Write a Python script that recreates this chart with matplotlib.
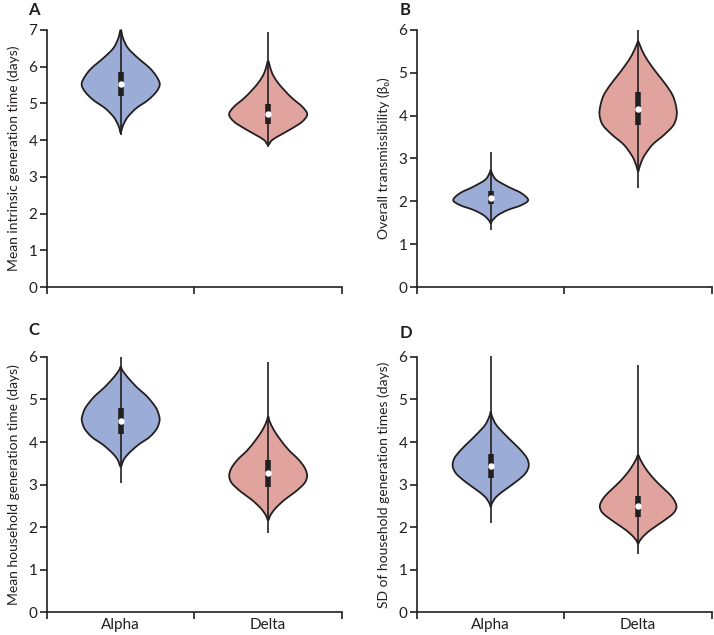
import numpy as np
import matplotlib
matplotlib.use('Agg')
import matplotlib.pyplot as plt
from matplotlib.path import Path
from matplotlib.patches import PathPatch

plt.rcParams['font.family'] = ['Lato', 'DejaVu Sans']

categories = ['Alpha', 'Delta']
panel_letters = ['A', 'B', 'C', 'D']
ylabels = ['Mean intrinsic generation time (days)',
           'Overall transmissibility (β₀)',
           'Mean household generation time (days)',
           'SD of household generation times (days)']
ymaxs = [7, 6, 6, 6]

# Violin outlines: y levels and half-widths (x units)
A_alpha_y = [7.00, 6.77, 6.50, 6.23, 5.96, 5.73, 5.52, 5.32, 5.09, 4.87, 4.64, 4.46, 4.32, 4.19]
A_alpha_w = [0.0, 0.016, 0.05, 0.118, 0.197, 0.243, 0.265, 0.243, 0.186, 0.107, 0.05, 0.023, 0.009, 0.0]
A_delta_y = [6.16, 6.05, 5.82, 5.59, 5.37, 5.14, 4.91, 4.70, 4.50, 4.32, 4.14, 4.00, 3.87]
A_delta_w = [0.0, 0.009, 0.027, 0.061, 0.107, 0.163, 0.231, 0.265, 0.231, 0.163, 0.084, 0.027, 0.0]

B_alpha_y = [2.73, 2.65, 2.50, 2.34, 2.19, 2.03, 1.91, 1.80, 1.68, 1.56, 1.49]
B_alpha_w = [0.0, 0.009, 0.038, 0.118, 0.208, 0.254, 0.208, 0.118, 0.05, 0.013, 0.0]
B_delta_y = [5.73, 5.65, 5.42, 5.18, 4.95, 4.72, 4.48, 4.25, 4.02, 3.78, 3.55, 3.32, 3.08, 2.93, 2.77, 2.69]
B_delta_w = [0.0, 0.011, 0.041, 0.086, 0.136, 0.188, 0.233, 0.255, 0.262, 0.24, 0.176, 0.097, 0.045, 0.023, 0.007, 0.0]

C_alpha_y = [5.77, 5.69, 5.54, 5.30, 5.07, 4.83, 4.68, 4.52, 4.32, 4.12, 3.93, 3.73, 3.58, 3.42]
C_alpha_w = [0.0, 0.011, 0.043, 0.106, 0.179, 0.235, 0.255, 0.264, 0.246, 0.197, 0.118, 0.054, 0.02, 0.0]
C_delta_y = [4.60, 4.48, 4.28, 4.05, 3.81, 3.58, 3.38, 3.20, 3.03, 2.83, 2.64, 2.44, 2.28, 2.16]
C_delta_w = [0.0, 0.011, 0.039, 0.084, 0.14, 0.208, 0.25, 0.264, 0.246, 0.185, 0.111, 0.05, 0.016, 0.0]

D_alpha_y = [4.71, 4.60, 4.40, 4.20, 4.01, 3.81, 3.62, 3.44, 3.26, 3.07, 2.87, 2.71, 2.56, 2.48]
D_alpha_w = [0.0, 0.009, 0.038, 0.09, 0.145, 0.203, 0.246, 0.258, 0.235, 0.174, 0.095, 0.038, 0.009, 0.0]
D_delta_y = [3.69, 3.58, 3.38, 3.18, 2.99, 2.79, 2.64, 2.48, 2.32, 2.12, 1.93, 1.77, 1.65, 1.60]
D_delta_w = [0.0, 0.016, 0.05, 0.095, 0.147, 0.208, 0.243, 0.26, 0.238, 0.163, 0.084, 0.032, 0.007, 0.0]

# Summary stats: whisker low, box low, median, box high, whisker high
A_alpha_stats = [4.13, 5.21, 5.53, 5.86, 7.00]
A_delta_stats = [3.82, 4.44, 4.71, 4.98, 6.94]
B_alpha_stats = [1.33, 1.93, 2.08, 2.24, 3.14]
B_delta_stats = [2.30, 3.78, 4.15, 4.54, 6.00]
C_alpha_stats = [3.03, 4.19, 4.49, 4.81, 6.00]
C_delta_stats = [1.87, 2.95, 3.26, 3.58, 5.89]
D_alpha_stats = [2.09, 3.15, 3.43, 3.72, 6.02]
D_delta_stats = [1.36, 2.24, 2.49, 2.74, 5.80]

panels = [
    [(A_alpha_y, A_alpha_w, A_alpha_stats), (A_delta_y, A_delta_w, A_delta_stats)],
    [(B_alpha_y, B_alpha_w, B_alpha_stats), (B_delta_y, B_delta_w, B_delta_stats)],
    [(C_alpha_y, C_alpha_w, C_alpha_stats), (C_delta_y, C_delta_w, C_delta_stats)],
    [(D_alpha_y, D_alpha_w, D_alpha_stats), (D_delta_y, D_delta_w, D_delta_stats)],
]

fill_colors = ['#9badd6', '#e0a39d']
ink = '#231f20'


def closed_smooth_path(pts):
    pts = np.asarray(pts, float)
    n = len(pts)
    verts = [pts[0]]
    codes = [Path.MOVETO]
    for i in range(n):
        p0 = pts[(i - 1) % n]
        p1 = pts[i]
        p2 = pts[(i + 1) % n]
        p3 = pts[(i + 2) % n]
        c1 = p1 + (p2 - p0) / 6.0
        c2 = p2 - (p3 - p1) / 6.0
        verts += [c1, c2, p2]
        codes += [Path.CURVE4] * 3
    return Path(verts, codes)


def draw_violin(ax, center, ys, ws, stats, color):
    ys = np.asarray(ys)
    ws = np.asarray(ws)
    right = np.column_stack([center + ws, ys])
    left = np.column_stack([center - ws[::-1], ys[::-1]])[1:-1]
    pts = np.vstack([right, left])
    path = closed_smooth_path(pts)
    ax.add_patch(PathPatch(path, facecolor=color, edgecolor=ink, lw=1.3,
                           zorder=2, clip_on=False))
    lo, q1, med, q3, hi = stats
    ax.plot([center, center], [lo, hi], color=ink, lw=1.2, zorder=3,
            clip_on=False, solid_capstyle='butt')
    ax.plot([center, center], [q1, q3], color=ink, lw=4.0, zorder=4,
            clip_on=False, solid_capstyle='butt')
    ax.plot([center], [med], 'o', ms=3.6, mfc='white', mec='white', zorder=5,
            clip_on=False)


fig = plt.figure(figsize=(7.14, 6.35), dpi=100)
rects = [[0.0658, 0.548, 0.413, 0.405],
         [0.584, 0.548, 0.413, 0.405],
         [0.0658, 0.0362, 0.413, 0.4016],
         [0.584, 0.0362, 0.413, 0.4016]]
letter_pos = [(0.040, 0.985), (0.559, 0.985), (0.040, 0.480), (0.559, 0.475)]

for k in range(4):
    ax = fig.add_axes(rects[k])
    for j, (ys, ws, st) in enumerate(panels[k]):
        draw_violin(ax, j + 0.5, ys, ws, st, fill_colors[j])
    ax.set_xlim(0, 2)
    ax.set_ylim(0, ymaxs[k])
    ax.set_yticks(range(0, ymaxs[k] + 1))
    ax.set_xticks([0, 1, 2])
    ax.set_xticklabels([])
    ax.set_xticks([0.5, 1.5], minor=True)
    if k >= 2:
        ax.set_xticklabels(categories, minor=True)
    else:
        ax.set_xticklabels([], minor=True)
    ax.tick_params(axis='x', which='minor', length=0, pad=4, labelsize=11, labelcolor=ink)
    ax.tick_params(axis='both', which='major', direction='out', length=5,
                   width=1.2, color=ink, labelsize=11, labelcolor=ink, pad=2)
    for s in ['top', 'right']:
        ax.spines[s].set_visible(False)
    for s in ['left', 'bottom']:
        ax.spines[s].set_color(ink)
        ax.spines[s].set_linewidth(1.2)
    ax.set_ylabel(ylabels[k], fontsize=10, color=ink, labelpad=6)
    fig.text(letter_pos[k][0], letter_pos[k][1], panel_letters[k], fontsize=12,
             fontweight='bold', color=ink, ha='left', va='center')

fig.savefig('out.png', dpi=100)
